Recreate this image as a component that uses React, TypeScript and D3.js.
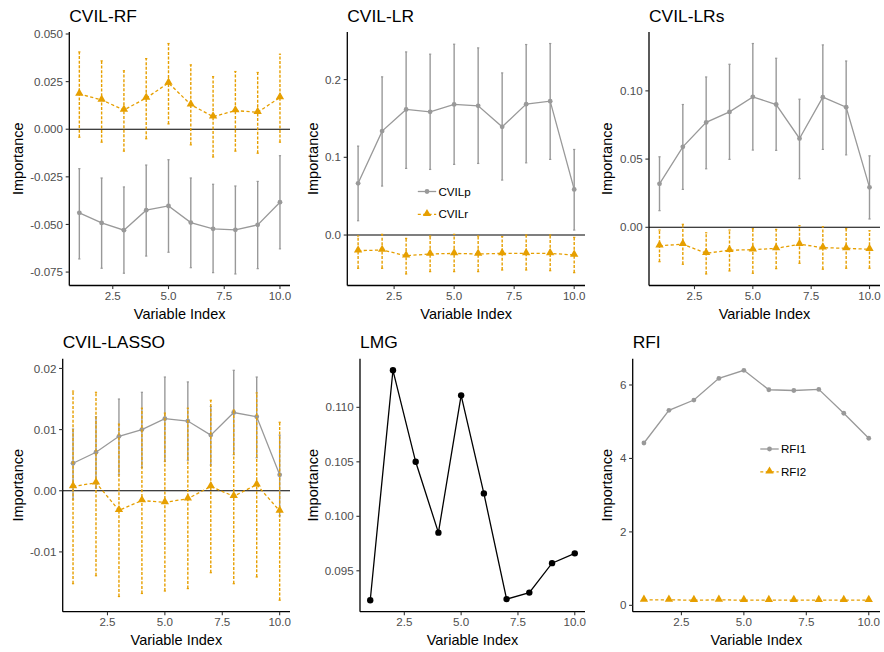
import React from "react";
import * as d3 from "d3";

// ---------- DATA ----------
const varIndex = [1, 2, 3, 4, 5, 6, 7, 8, 9, 10];
const xTicks = [2.5, 5.0, 7.5, 10.0];

// CVIL-RF
const rfP = [-0.0439, -0.0492, -0.053, -0.0425, -0.0403, -0.049, -0.0523, -0.0528, -0.0502, -0.0383];
const rfPUp = [-0.0207, -0.0256, -0.0303, -0.0188, -0.016, -0.0256, -0.0289, -0.0298, -0.0274, -0.0139];
const rfPLo = [-0.0681, -0.073, -0.0756, -0.0666, -0.0646, -0.0727, -0.0753, -0.076, -0.0732, -0.0628];
const rfR = [0.0185, 0.0154, 0.0101, 0.0164, 0.0243, 0.0129, 0.0066, 0.0098, 0.0089, 0.0167];
const rfRUp = [0.0406, 0.0359, 0.0307, 0.0371, 0.045, 0.0338, 0.0276, 0.0303, 0.0298, 0.0394];
const rfRLo = [-0.0042, -0.0068, -0.0115, -0.005, 0.0028, -0.0082, -0.0146, -0.0115, -0.0126, -0.0068];
const rfTicks = [-0.075, -0.05, -0.025, 0, 0.025, 0.05];

// CVIL-LR
const lrP = [0.0665, 0.1337, 0.1616, 0.1585, 0.168, 0.1662, 0.1392, 0.1684, 0.1722, 0.0587];
const lrPUp = [0.1144, 0.2035, 0.2356, 0.2327, 0.2455, 0.2408, 0.2086, 0.2451, 0.2464, 0.1101];
const lrPLo = [0.0184, 0.063, 0.0857, 0.0844, 0.0909, 0.0921, 0.0707, 0.0929, 0.0973, 0.0064];
const lrR = [-0.0201, -0.0193, -0.0266, -0.0244, -0.0236, -0.0244, -0.0236, -0.0236, -0.0236, -0.0257];
const lrRUp = [-0.0013, 0.0009, -0.0043, -0.0013, 0.0009, -0.0013, -0.0021, 0.0, 0.0, -0.003];
const lrRLo = [-0.0428, -0.0428, -0.0501, -0.0471, -0.0471, -0.0471, -0.045, -0.045, -0.0459, -0.0484];
const lrTicks = [0, 0.1, 0.2];

// CVIL-LRs
const lrsP = [0.0319, 0.059, 0.0769, 0.0846, 0.0956, 0.09, 0.0651, 0.0954, 0.088, 0.0293];
const lrsPUp = [0.0517, 0.09, 0.1102, 0.1195, 0.1347, 0.1239, 0.0939, 0.1337, 0.1219, 0.0524];
const lrsPLo = [0.0122, 0.0278, 0.0429, 0.0498, 0.0566, 0.0564, 0.0356, 0.0571, 0.0531, 0.0061];
const lrsR = [-0.0135, -0.0124, -0.019, -0.0168, -0.0164, -0.0154, -0.0124, -0.0149, -0.0154, -0.0161];
const lrsRUp = [-0.002, 0.0022, -0.004, -0.002, -0.001, -0.0015, 0.0012, 0.0004, -0.001, -0.0025];
const lrsRLo = [-0.0252, -0.0271, -0.0342, -0.032, -0.0337, -0.0303, -0.0264, -0.0307, -0.03, -0.03];
const lrsTicks = [0, 0.05, 0.1];

// CVIL-LASSO
const lassoP = [0.0045, 0.0063, 0.0089, 0.01, 0.0118, 0.0114, 0.0091, 0.0128, 0.0121, 0.0026];
const lassoPUp = [0.0101, 0.0121, 0.015, 0.0161, 0.0186, 0.0178, 0.0138, 0.0197, 0.0186, 0.0091];
const lassoPLo = [-0.0014, 0.0004, 0.0026, 0.0038, 0.0048, 0.005, 0.0042, 0.0059, 0.0054, -0.0041];
const lassoR = [0.0007, 0.0013, -0.0032, -0.0016, -0.0019, -0.0013, 0.0007, -0.0009, 0.001, -0.0033];
const lassoRUp = [0.0163, 0.0161, 0.0109, 0.0135, 0.0127, 0.0135, 0.0148, 0.0132, 0.016, 0.0112];
const lassoRLo = [-0.0152, -0.0139, -0.0173, -0.0168, -0.0164, -0.016, -0.0134, -0.0152, -0.0141, -0.0179];
const lassoTicks = [-0.01, 0, 0.01, 0.02];

// LMG
const lmg = [0.0923, 0.1134, 0.105, 0.0985, 0.1111, 0.1021, 0.0924, 0.093, 0.0957, 0.0966];
const lmgTicks = [0.095, 0.1, 0.105, 0.11];

// RFI
const rfi1 = [4.42, 5.31, 5.59, 6.18, 6.4, 5.87, 5.85, 5.88, 5.23, 4.55];
const rfi2 = [0.15, 0.15, 0.14, 0.15, 0.14, 0.14, 0.14, 0.14, 0.14, 0.14];
const rfiTicks = [0, 2, 4, 6];

// ---------- STYLE / LAYOUT ----------
const W = 884;
const H = 652;
const GREY = "#999999";
const ORANGE = "#E69F00";
const FONT = "'Liberation Sans', Arial, Helvetica, sans-serif";

type Series = {
  name: string;
  values: number[];
  lo?: number[];
  hi?: number[];
  color: string;
  dashed: boolean;
  shape: "circle" | "triangle";
  r: number;
};

type Panel = {
  title: string;
  left: number;
  right: number;
  top: number;
  bottom: number;
  cellLeft: number;
  yTicks: number[];
  yFmt: string;
  series: Series[];
  hline: boolean;
  legend?: { x: number; y: number };
};

const row1 = { top: 32, bottom: 285.5 };
const row2 = { top: 358.8, bottom: 611.7 };

const pSeries = (name: string, v: number[], lo?: number[], hi?: number[]): Series => ({
  name, values: v, lo, hi, color: GREY, dashed: false, shape: "circle", r: 2.4,
});
const rSeries = (name: string, v: number[], lo?: number[], hi?: number[]): Series => ({
  name, values: v, lo, hi, color: ORANGE, dashed: true, shape: "triangle", r: 3.3,
});

const panels: Panel[] = [
  {
    title: "CVIL-RF", left: 69.3, right: 290, ...row1, cellLeft: 0, yTicks: rfTicks, yFmt: ".3f",
    series: [pSeries("CVILp", rfP, rfPLo, rfPUp), rSeries("CVILr", rfR, rfRLo, rfRUp)], hline: true,
  },
  {
    title: "CVIL-LR", left: 347.3, right: 585, ...row1, cellLeft: 294.67, yTicks: lrTicks, yFmt: ".1f",
    series: [pSeries("CVILp", lrP, lrPLo, lrPUp), rSeries("CVILr", lrR, lrRLo, lrRUp)], hline: true,
    legend: { x: 427, y: 191.5 },
  },
  {
    title: "CVIL-LRs", left: 649, right: 880, ...row1, cellLeft: 589.33, yTicks: lrsTicks, yFmt: ".2f",
    series: [pSeries("CVILp", lrsP, lrsPLo, lrsPUp), rSeries("CVILr", lrsR, lrsRLo, lrsRUp)], hline: true,
  },
  {
    title: "CVIL-LASSO", left: 62.7, right: 290, ...row2, cellLeft: 0, yTicks: lassoTicks, yFmt: ".2f",
    series: [pSeries("CVILp", lassoP, lassoPLo, lassoPUp), rSeries("CVILr", lassoR, lassoRLo, lassoRUp)], hline: true,
  },
  {
    title: "LMG", left: 360, right: 585, ...row2, cellLeft: 294.67, yTicks: lmgTicks, yFmt: ".3f",
    series: [{ name: "LMG", values: lmg, color: "#000000", dashed: false, shape: "circle", r: 3.2 }], hline: false,
  },
  {
    title: "RFI", left: 632.7, right: 880, ...row2, cellLeft: 589.33, yTicks: rfiTicks, yFmt: "d",
    series: [pSeries("RFI1", rfi1), rSeries("RFI2", rfi2)], hline: false,
    legend: { x: 769.5, y: 449 },
  },
];

const fmt = (spec: string) => {
  const f = d3.format(spec);
  return (v: number) => f(v).replace("\u2212", "-");
};

function Marker({ s, x, y }: { s: Series; x: number; y: number }) {
  if (s.shape === "circle") return <circle cx={x} cy={y} r={s.r} fill={s.color} />;
  const tri = d3.symbol(d3.symbolTriangle, 30)();
  return <path d={tri || ""} transform={`translate(${x},${y - 0.6})`} fill={s.color} />;
}

function PanelView({ p }: { p: Panel }) {
  const x = d3.scaleLinear().domain([1, 10]).range([0, 1]);
  const xs = d3.scaleLinear()
    .domain([0.55, 10.45])
    .range([p.left, p.right]);
  const all: number[] = [];
  p.series.forEach((s) => {
    all.push(...s.values);
    if (s.lo) all.push(...s.lo);
    if (s.hi) all.push(...s.hi);
  });
  const [mn, mx] = d3.extent(all) as [number, number];
  const pad = (mx - mn) * 0.05;
  const ys = d3.scaleLinear().domain([mn - pad, mx + pad]).range([p.bottom, p.top]);
  void x;
  const yf = fmt(p.yFmt);
  const xf = fmt(".1f");
  const line = d3.line<number>().x((_, i) => xs(varIndex[i])).y((v) => ys(v));
  const midY = (p.top + p.bottom) / 2;
  const midX = (p.left + p.right) / 2;

  return (
    <g>
      {/* title */}
      <text x={p.left} y={p.top - 10.5} fontSize={17.4} fill="#000">{p.title}</text>
      {/* zero line */}
      {p.hline && (
        <line x1={p.left} x2={p.right} y1={ys(0)} y2={ys(0)} stroke="#000" strokeWidth={1.1} />
      )}
      {/* series */}
      {p.series.map((s) => (
        <g key={s.name}>
          {s.lo && s.hi && varIndex.map((vi, i) => (
            <g key={vi}>
              <line x1={xs(vi)} x2={xs(vi)} y1={ys(s.lo![i])} y2={ys(s.hi![i])} stroke={s.color}
                strokeWidth={1.4} strokeDasharray={s.dashed ? "3,1.6" : undefined} />
              <line x1={xs(vi) - 1.1} x2={xs(vi) + 1.1} y1={ys(s.lo![i])} y2={ys(s.lo![i])} stroke={s.color} strokeWidth={1.2} />
              <line x1={xs(vi) - 1.1} x2={xs(vi) + 1.1} y1={ys(s.hi![i])} y2={ys(s.hi![i])} stroke={s.color} strokeWidth={1.2} />
            </g>
          ))}
          <path d={line(s.values) || ""} fill="none" stroke={s.color} strokeWidth={1.3}
            strokeDasharray={s.dashed ? "3.2,2.4" : undefined} />
          {s.values.map((v, i) => (
            <Marker key={i} s={s} x={xs(varIndex[i])} y={ys(v)} />
          ))}
        </g>
      ))}
      {/* axes */}
      <line x1={p.left} x2={p.left} y1={p.top} y2={p.bottom} stroke="#000" strokeWidth={1.3} />
      <line x1={p.left} x2={p.right} y1={p.bottom} y2={p.bottom} stroke="#000" strokeWidth={1.3} />
      {p.yTicks.map((t) => (
        <g key={"y" + t}>
          <line x1={p.left - 3.6} x2={p.left} y1={ys(t)} y2={ys(t)} stroke="#333" strokeWidth={1.1} />
          <text x={p.left - 6.3} y={ys(t)} dy="0.35em" textAnchor="end" fontSize={11.6} fill="#4D4D4D">{yf(t)}</text>
        </g>
      ))}
      {xTicks.map((t) => (
        <g key={"x" + t}>
          <line x1={xs(t)} x2={xs(t)} y1={p.bottom} y2={p.bottom + 3.6} stroke="#333" strokeWidth={1.1} />
          <text x={xs(t)} y={p.bottom + 6.3} dy="0.72em" textAnchor="middle" fontSize={11.6} fill="#4D4D4D">{xf(t)}</text>
        </g>
      ))}
      <text x={midX} y={p.bottom + 33} textAnchor="middle" fontSize={14.5} fill="#000">Variable Index</text>
      <text transform={`translate(${p.cellLeft + 23},${midY}) rotate(-90)`} textAnchor="middle" fontSize={14.5} fill="#000">Importance</text>
      {/* legend */}
      {p.legend && p.series.map((s, k) => {
        const cy = p.legend!.y + k * 22.8;
        const cx = p.legend!.x;
        return (
          <g key={"lg" + s.name}>
            <line x1={cx - 9.2} x2={cx + 9.2} y1={cy} y2={cy} stroke={s.color} strokeWidth={1.3}
              strokeDasharray={s.dashed ? "3,2.4" : undefined} />
            <Marker s={s} x={cx} y={cy} />
            <text x={cx + 11.5} y={cy} dy="0.35em" fontSize={11.6} fill="#000">{s.name}</text>
          </g>
        );
      })}
    </g>
  );
}

export default function App() {
  return (
    <svg width={W} height={H} viewBox={`0 0 ${W} ${H}`}
      style={{ position: "absolute", left: 0, top: 0, display: "block", background: "#fff" }}
      fontFamily={FONT}>
      <rect width={W} height={H} fill="#fff" />
      {panels.map((p) => <PanelView key={p.title} p={p} />)}
    </svg>
  );
}
